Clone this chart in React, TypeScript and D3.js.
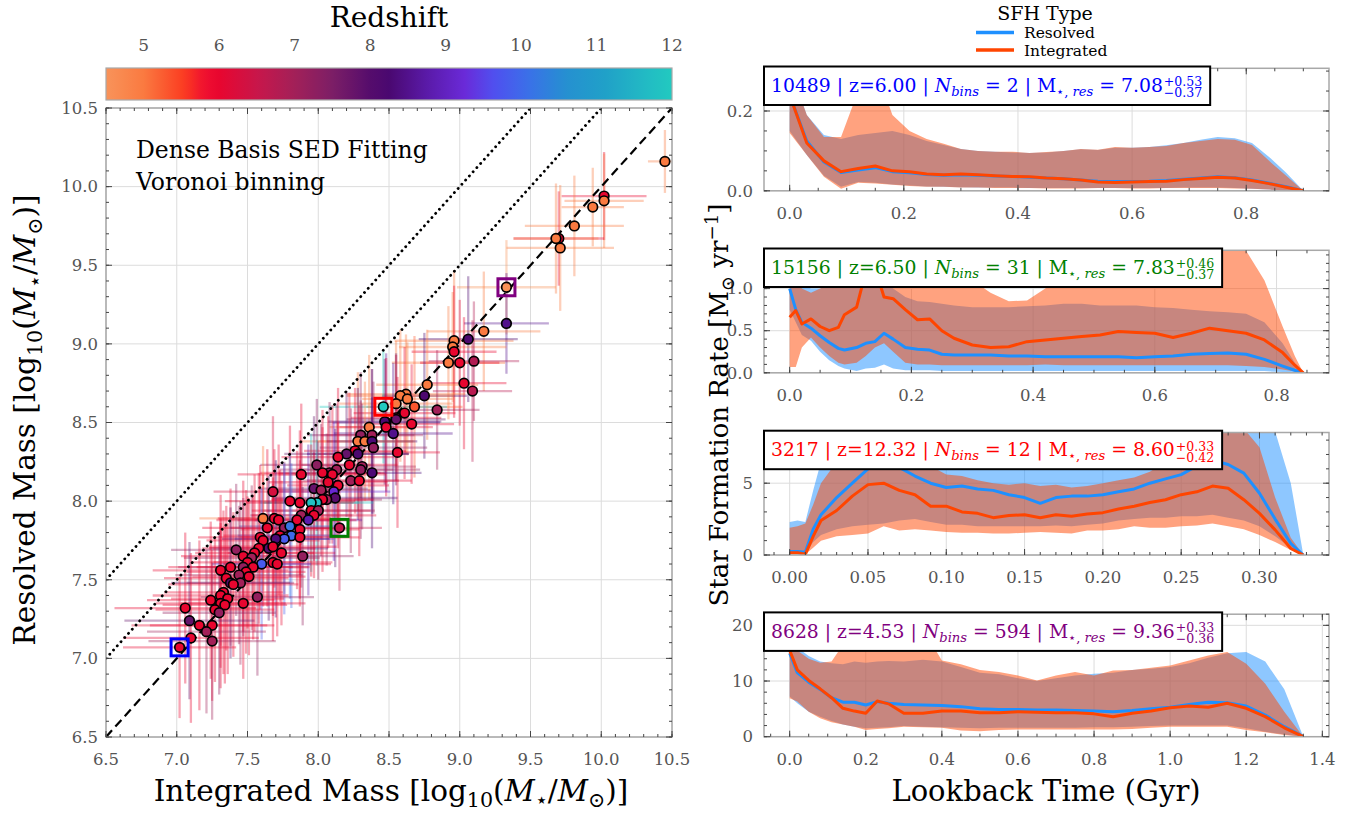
import { useEffect, useRef } from "react";
import * as d3 from "d3";

const SERIF = "'DejaVu Serif', 'Liberation Serif', serif";

// ---- integrated vs resolved stellar mass, one entry per galaxy ----
const intMass = [
  10.45, 10.02, 10.02, 9.94, 9.81, 9.70, 9.68, 9.71, 9.33, 9.33,
  9.17, 8.96, 9.06, 8.95, 8.96, 8.92, 9.00, 9.10, 9.03, 9.09,
  8.77, 8.75, 8.62, 8.58, 8.63, 8.55, 8.68, 8.84, 8.46, 8.61,
  8.55, 8.48, 8.66, 8.36, 8.47, 8.55, 8.48, 8.53, 8.30, 8.38,
  8.28, 8.33, 8.38, 8.26, 8.39, 8.56, 8.20, 8.14, 8.28, 8.22,
  8.31, 8.30, 8.38, 8.13, 8.08, 8.03, 8.10, 7.99, 8.23, 8.29,
  8.07, 7.88, 8.14, 8.11, 7.97, 8.02, 7.68, 8.12, 8.06, 8.03,
  7.99, 7.95, 7.80, 7.87, 7.95, 8.00, 7.88, 7.97, 7.93, 7.85,
  8.15, 7.61, 7.69, 7.72, 7.76, 7.80, 7.87, 7.64, 7.73, 7.81,
  7.76, 7.87, 7.59, 7.61, 7.70, 7.65, 7.68, 7.58, 7.42, 7.74,
  7.55, 7.89, 7.47, 7.53, 7.50, 7.68, 7.71, 7.60, 7.47, 7.38,
  7.54, 7.31, 7.49, 7.44, 7.51, 7.35, 7.38, 7.45, 7.40, 7.57,
  7.47, 7.33, 7.31, 7.24, 7.36, 7.31, 7.34, 7.27, 7.30, 7.06,
  7.09, 7.16, 7.25, 7.21, 7.25, 7.10, 7.02,
];
const resMass = [
  10.16, 9.94, 9.91, 9.87, 9.75, 9.67, 9.67, 9.61, 9.36, 9.13,
  9.08, 9.02, 9.03, 8.98, 8.95, 8.88, 8.88, 8.89, 8.75, 8.70,
  8.74, 8.67, 8.68, 8.67, 8.65, 8.62, 8.60, 8.58, 8.60, 8.56,
  8.53, 8.50, 8.49, 8.47, 8.505, 8.52, 8.47, 8.43, 8.42, 8.42,
  8.38, 8.38, 8.38, 8.32, 8.34, 8.31, 8.30, 8.28, 8.30, 8.23,
  8.22, 8.20, 8.18, 8.20, 8.18, 8.18, 8.17, 8.23, 8.13, 8.13,
  8.12, 8.17, 8.10, 8.06, 8.08, 8.07, 8.06, 8.02, 8.01, 8.01,
  7.99, 7.99, 8.00, 7.99, 7.94, 7.94, 7.91, 7.91, 7.88, 7.88,
  7.83, 7.89, 7.89, 7.88, 7.83, 7.84, 7.82, 7.83, 7.78, 7.78,
  7.76, 7.77, 7.77, 7.75, 7.76, 7.70, 7.71, 7.70, 7.69, 7.67,
  7.67, 7.65, 7.65, 7.64, 7.61, 7.61, 7.60, 7.60, 7.58, 7.58,
  7.58, 7.56, 7.55, 7.53, 7.52, 7.51, 7.48, 7.48, 7.47, 7.39,
  7.35, 7.42, 7.40, 7.37, 7.38, 7.35, 7.34, 7.31, 7.29, 7.32,
  7.24, 7.21, 7.21, 7.17, 7.11, 7.13, 7.07,
];
const redshift = [
  5.0, 6.0, 5.0, 5.0, 5.0, 6.0, 5.0, 5.0, 4.53, 8.5,
  5.0, 5.0, 8.2, 5.0, 6.0, 5.0, 6.0, 6.8, 6.0, 6.7,
  5.0, 8.2, 5.0, 5.0, 5.0, 5.0, 5.3, 7.0, 12.32, 6.0,
  6.0, 8.5, 6.0, 5.0, 8.2, 7.8, 6.0, 8.5, 7.2, 7.0,
  5.0, 5.0, 8.3, 6.0, 7.2, 6.0, 7.8, 6.0, 8.2, 6.0,
  7.0, 7.2, 8.3, 7.0, 7.2, 6.0, 6.0, 7.3, 7.0, 6.0,
  6.0, 6.0, 6.0, 9.2, 7.8, 7.0, 6.3, 8.0, 7.0, 6.0,
  11.8, 11.8, 6.0, 6.0, 6.0, 7.0, 7.0, 6.0, 8.8, 6.0,
  6.5, 5.0, 6.0, 6.0, 7.2, 10.2, 6.0, 6.0, 6.0, 10.0,
  9.8, 6.0, 6.0, 6.0, 8.3, 8.0, 6.0, 6.0, 7.2, 6.0,
  6.0, 7.2, 6.0, 7.0, 6.0, 6.0, 6.0, 9.8, 7.2, 6.0,
  6.0, 6.0, 6.0, 7.0, 6.0, 6.0, 8.0, 7.0, 6.0, 7.2,
  6.0, 6.0, 6.0, 6.0, 6.0, 6.0, 6.0, 6.0, 7.2, 6.0,
  7.8, 6.0, 6.0, 7.0, 7.0, 6.0, 6.0,
];
const intErr = [
  0.12, 0.30, 0.28, 0.22, 0.35, 0.32, 0.30, 0.38, 0.35, 0.30,
  0.40, 0.42, 0.35, 0.38, 0.30, 0.40, 0.28, 0.32, 0.30, 0.28,
  0.36, 0.30, 0.42, 0.38, 0.32, 0.40, 0.34, 0.30, 0.45, 0.36,
  0.32, 0.38, 0.30, 0.28, 0.40, 0.35, 0.33, 0.42, 0.38, 0.36,
  0.40, 0.34, 0.32, 0.36, 0.38, 0.30, 0.44, 0.40, 0.36, 0.34,
  0.38, 0.42, 0.35, 0.40, 0.36, 0.44, 0.38, 0.40, 0.34, 0.37,
  0.42, 0.45, 0.36, 0.40, 0.38, 0.35, 0.42, 0.44, 0.39, 0.36,
  0.40, 0.34, 0.46, 0.38, 0.42, 0.40, 0.36, 0.44, 0.38, 0.42,
  0.30, 0.45, 0.40, 0.44, 0.38, 0.36, 0.42, 0.46, 0.40, 0.38,
  0.35, 0.42, 0.44, 0.40, 0.38, 0.42, 0.45, 0.40, 0.46, 0.38,
  0.42, 0.36, 0.44, 0.48, 0.40, 0.42, 0.38, 0.35, 0.46, 0.44,
  0.40, 0.48, 0.42, 0.45, 0.40, 0.44, 0.42, 0.38, 0.46, 0.40,
  0.44, 0.42, 0.48, 0.45, 0.40, 0.46, 0.44, 0.42, 0.40, 0.50,
  0.46, 0.48, 0.44, 0.42, 0.45, 0.48, 0.40,
];
const resErr = [
  0.20, 0.28, 0.30, 0.25, 0.32, 0.30, 0.35, 0.40, 0.30, 0.32,
  0.38, 0.45, 0.40, 0.35, 0.42, 0.36, 0.40, 0.38, 0.42, 0.45,
  0.35, 0.40, 0.38, 0.42, 0.36, 0.40, 0.45, 0.38, 0.36, 0.42,
  0.40, 0.44, 0.38, 0.46, 0.40, 0.42, 0.44, 0.45, 0.40, 0.42,
  0.44, 0.38, 0.46, 0.40, 0.42, 0.48, 0.40, 0.44, 0.42, 0.46,
  0.40, 0.44, 0.48, 0.42, 0.45, 0.40, 0.44, 0.42, 0.46, 0.48,
  0.42, 0.45, 0.40, 0.44, 0.46, 0.42, 0.48, 0.44, 0.42, 0.46,
  0.40, 0.44, 0.48, 0.46, 0.42, 0.44, 0.46, 0.40, 0.48, 0.44,
  0.40, 0.46, 0.44, 0.48, 0.42, 0.46, 0.44, 0.50, 0.42, 0.46,
  0.48, 0.44, 0.46, 0.42, 0.50, 0.46, 0.44, 0.48, 0.42, 0.46,
  0.50, 0.44, 0.48, 0.46, 0.42, 0.50, 0.46, 0.48, 0.44, 0.50,
  0.46, 0.48, 0.52, 0.44, 0.50, 0.46, 0.48, 0.52, 0.46, 0.50,
  0.48, 0.52, 0.46, 0.50, 0.48, 0.54, 0.50, 0.46, 0.52, 0.48,
  0.50, 0.54, 0.48, 0.52, 0.50, 0.54, 0.45,
];

// redshift colour bar (stops picked off the reference bar)
const cmapZ = [4.5, 5.0, 5.55, 5.8, 6.0, 6.5, 7.0, 7.5, 8.0, 8.25, 8.75, 9.25, 9.65, 10.1, 10.6, 11.1, 11.6, 12.0];
const cmapC = ["#f8935a", "#fa7a40", "#fb3a20", "#f01030", "#e8062f", "#c8164a", "#a22058", "#7c1e66",
  "#550c6c", "#4a0870", "#5a1aa8", "#6a2ad8", "#4f50f0", "#3a70e8", "#2590d0", "#20a0c8", "#22b8c4", "#22cac0"];
const zTicks = [5, 6, 7, 8, 9, 10, 11, 12];
const massTicks = [6.5, 7.0, 7.5, 8.0, 8.5, 9.0, 9.5, 10.0, 10.5];

// highlighted galaxies (one SFH panel each, top to bottom)
const hlIndex = [136, 80, 28, 8];
const hlId = ["10489", "15156", "3217", "8628"];
const hlZ = ["6.00", "6.50", "12.32", "4.53"];
const hlNbins = ["2", "31", "12", "594"];
const hlMass = ["7.08", "7.83", "8.60", "9.36"];
const hlUp = ["0.53", "0.46", "0.33", "0.33"];
const hlLo = ["0.37", "0.37", "0.42", "0.36"];
const hlColor = ["#0000ff", "#008000", "#ff0000", "#800080"];

// ---- star formation histories ----
const p1Time = [0, 0.03, 0.06, 0.09, 0.12, 0.15, 0.18, 0.21, 0.24, 0.27, 0.30, 0.33, 0.36, 0.39, 0.42, 0.45,
  0.48, 0.51, 0.54, 0.57, 0.60, 0.63, 0.66, 0.69, 0.72, 0.75, 0.78, 0.81, 0.84, 0.87, 0.90];
const p1IntMed = [0.24, 0.12, 0.075, 0.048, 0.056, 0.062, 0.05, 0.048, 0.042, 0.040, 0.042, 0.040, 0.038, 0.036, 0.035, 0.032,
  0.030, 0.027, 0.022, 0.021, 0.022, 0.023, 0.024, 0.028, 0.031, 0.034, 0.032, 0.026, 0.018, 0.009, 0];
const p1ResMed = [0.24, 0.125, 0.072, 0.046, 0.052, 0.058, 0.048, 0.045, 0.041, 0.039, 0.040, 0.039, 0.037, 0.036, 0.034, 0.032,
  0.030, 0.027, 0.024, 0.023, 0.023, 0.024, 0.026, 0.029, 0.032, 0.035, 0.033, 0.027, 0.019, 0.010, 0];
const p1IntHi = [0.31, 0.19, 0.135, 0.135, 0.25, 0.31, 0.19, 0.15, 0.13, 0.118, 0.105, 0.100, 0.098, 0.098, 0.095, 0.097,
  0.100, 0.105, 0.103, 0.110, 0.108, 0.110, 0.112, 0.120, 0.125, 0.130, 0.128, 0.115, 0.075, 0.038, 0];
const p1ResHi = [0.31, 0.19, 0.14, 0.13, 0.14, 0.145, 0.15, 0.14, 0.125, 0.115, 0.105, 0.10, 0.098, 0.096, 0.095, 0.096,
  0.10, 0.104, 0.102, 0.108, 0.108, 0.110, 0.114, 0.120, 0.128, 0.135, 0.132, 0.12, 0.085, 0.045, 0];
const p1IntLo = [0.145, 0.09, 0.035, 0.005, 0.02, 0.018, 0.015, 0.012, 0.010, 0.010, 0.008, 0.008, 0.007, 0.007, 0.007, 0.006,
  0.006, 0.006, 0.007, 0.007, 0.006, 0.006, 0.007, 0.007, 0.007, 0.007, 0.006, 0.005, 0.003, 0.001, 0];
const p1ResLo = [0.15, 0.09, 0.038, 0.01, 0.022, 0.02, 0.016, 0.013, 0.011, 0.010, 0.009, 0.008, 0.008, 0.008, 0.007, 0.007,
  0.007, 0.007, 0.007, 0.007, 0.007, 0.007, 0.007, 0.008, 0.008, 0.008, 0.007, 0.005, 0.003, 0.001, 0];

const p2Time = [0, 0.01, 0.02, 0.035, 0.05, 0.065, 0.08, 0.09, 0.11, 0.125, 0.14, 0.155, 0.17, 0.19, 0.21, 0.23, 0.25, 0.27, 0.30,
  0.33, 0.36, 0.39, 0.42, 0.45, 0.48, 0.51, 0.54, 0.57, 0.60, 0.63, 0.66, 0.69, 0.72, 0.75, 0.78, 0.81, 0.83, 0.844];
const p2IntMed = [0.66, 0.74, 0.58, 0.64, 0.55, 0.50, 0.54, 0.69, 0.78, 1.20, 1.25, 0.90, 0.88, 0.75, 0.63, 0.64, 0.50, 0.41, 0.33,
  0.30, 0.31, 0.37, 0.39, 0.41, 0.43, 0.45, 0.49, 0.48, 0.47, 0.42, 0.47, 0.53, 0.50, 0.47, 0.39, 0.24, 0.09, 0];
const p2ResMed = [1.00, 0.75, 0.60, 0.53, 0.44, 0.36, 0.29, 0.27, 0.30, 0.35, 0.37, 0.47, 0.40, 0.30, 0.28, 0.27, 0.22, 0.21, 0.21,
  0.21, 0.20, 0.20, 0.19, 0.19, 0.19, 0.19, 0.19, 0.18, 0.19, 0.20, 0.22, 0.23, 0.235, 0.22, 0.16, 0.08, 0.03, 0];
const p2IntHi = [1.5, 1.3, 1.0, 0.95, 1.0, 1.05, 1.1, 1.3, 1.5, 1.5, 1.5, 1.5, 1.5, 1.5, 1.4, 1.35, 1.3, 1.25, 1.1,
  0.95, 0.85, 0.86, 1.0, 1.2, 1.45, 1.5, 1.5, 1.5, 1.5, 1.5, 1.5, 1.5, 1.5, 1.45, 1.1, 0.55, 0.2, 0];
const p2ResHi = [1.4, 1.2, 1.05, 1.0, 1.0, 1.05, 1.1, 1.15, 1.2, 1.25, 1.2, 1.1, 1.0, 0.9, 0.85, 0.84, 0.82, 0.80, 0.78,
  0.78, 0.78, 0.79, 0.80, 0.82, 0.82, 0.80, 0.80, 0.80, 0.78, 0.77, 0.75, 0.73, 0.72, 0.70, 0.60, 0.35, 0.12, 0];
const p2IntLo = [0.07, 0.07, 0.30, 0.42, 0.30, 0.20, 0.12, 0.10, 0.12, 0.20, 0.30, 0.35, 0.25, 0.12, 0.10, 0.10, 0.09, 0.09, 0.09,
  0.09, 0.09, 0.09, 0.10, 0.09, 0.09, 0.09, 0.09, 0.09, 0.09, 0.09, 0.09, 0.09, 0.09, 0.08, 0.07, 0.04, 0.015, 0];
const p2ResLo = [0.75, 0.60, 0.45, 0.38, 0.25, 0.15, 0.08, 0.05, 0.02, 0.05, 0.06, 0.10, 0.05, 0.03, 0.03, 0.03, 0.02, 0.02, 0.02,
  0.02, 0.02, 0.02, 0.02, 0.02, 0.02, 0.02, 0.02, 0.02, 0.02, 0.02, 0.02, 0.02, 0.02, 0.02, 0.02, 0.01, 0.005, 0];

const p3Time = [0, 0.005, 0.01, 0.015, 0.02, 0.03, 0.04, 0.05, 0.06, 0.07, 0.08, 0.09, 0.10, 0.11, 0.12, 0.13, 0.14, 0.15,
  0.16, 0.17, 0.18, 0.19, 0.20, 0.21, 0.22, 0.23, 0.24, 0.25, 0.26, 0.27, 0.28, 0.29, 0.30, 0.31, 0.32, 0.328];
const p3IntMed = [0.16, 0.15, 0.05, 1.3, 2.4, 3.1, 4.1, 4.9, 5.0, 4.5, 4.2, 3.4, 3.4, 3.0, 2.9, 2.6, 2.75, 2.8,
  2.6, 2.8, 2.7, 2.85, 2.95, 3.2, 3.4, 3.65, 3.85, 4.2, 4.4, 4.8, 4.65, 3.85, 2.9, 1.75, 0.45, 0];
const p3ResMed = [0.25, 0.25, 0.2, 1.8, 2.8, 4.0, 5.0, 6.0, 6.4, 6.1, 5.5, 5.0, 4.7, 4.8, 4.6, 4.5, 4.2, 4.0,
  3.6, 4.0, 4.1, 4.1, 4.2, 4.4, 4.6, 5.0, 5.3, 5.6, 6.2, 6.6, 6.3, 5.7, 4.3, 2.5, 0.8, 0];
const p3IntHi = [1.9, 2.0, 2.2, 3.5, 5.0, 6.5, 8.0, 8.8, 8.8, 8.0, 7.0, 6.2, 5.6, 5.5, 5.2, 5.0, 4.9, 5.0,
  4.8, 4.9, 4.7, 4.8, 5.0, 5.2, 5.4, 5.8, 6.5, 7.5, 8.8, 8.8, 8.8, 8.8, 7.5, 4.0, 1.2, 0];
const p3ResHi = [2.3, 2.4, 2.3, 4.5, 6.5, 8.8, 8.8, 8.8, 8.8, 8.8, 8.8, 8.8, 8.8, 8.6, 8.4, 8.2, 8.0, 7.8,
  7.6, 7.8, 8.0, 8.2, 8.4, 8.6, 8.8, 8.8, 8.8, 8.8, 8.8, 8.8, 8.8, 8.8, 8.8, 8.6, 5.0, 0];
const p3IntLo = [0.05, 0.05, 0.05, 0.5, 1.0, 1.3, 1.4, 1.5, 2.0, 1.7, 1.8, 1.7, 1.6, 1.55, 1.55, 1.5, 1.5, 1.55,
  1.6, 1.55, 1.5, 1.7, 1.7, 1.8, 2.0, 1.9, 1.9, 2.0, 2.05, 2.2, 2.0, 1.8, 1.4, 0.9, 0.35, 0];
const p3ResLo = [0.1, 0.1, 0.1, 0.9, 1.4, 1.8, 2.0, 2.1, 2.2, 2.4, 2.5, 2.3, 2.1, 2.1, 2.0, 2.0, 2.0, 2.0,
  2.0, 2.05, 2.0, 2.1, 2.2, 2.4, 2.5, 2.6, 2.6, 2.7, 2.7, 2.8, 2.6, 2.4, 2.0, 1.3, 0.5, 0];

const p4Time = [0, 0.02, 0.05, 0.08, 0.11, 0.14, 0.17, 0.2, 0.23, 0.26, 0.3, 0.35, 0.4, 0.45, 0.5, 0.55,
  0.6, 0.65, 0.7, 0.75, 0.8, 0.85, 0.9, 0.95, 1.0, 1.05, 1.1, 1.15, 1.2, 1.25, 1.3, 1.35];
const p4IntMed = [15.5, 12.0, 10.1, 8.6, 7.0, 5.1, 4.6, 4.2, 6.4, 5.9, 4.2, 4.2, 4.6, 4.6, 4.3, 4.3,
  4.5, 4.4, 4.3, 4.3, 4.1, 3.6, 4.2, 4.6, 5.2, 5.5, 5.3, 6.0, 5.1, 3.6, 1.6, 0];
const p4ResMed = [15.0, 11.5, 9.8, 8.5, 7.0, 6.2, 6.2, 5.7, 6.3, 6.0, 5.8, 5.7, 5.6, 5.4, 5.0, 4.9,
  4.9, 4.8, 4.8, 4.7, 4.6, 4.5, 4.7, 5.0, 5.3, 5.8, 6.2, 6.1, 5.5, 3.9, 1.8, 0];
const p4IntHi = [22, 15.5, 14.0, 13.3, 13.5, 16.5, 17.5, 19.0, 18.5, 18.8, 19.2, 19.4, 13.7, 13.0, 12.0, 11.6,
  11.0, 10.1, 11.0, 11.6, 11.0, 11.9, 12.0, 12.4, 12.8, 13.7, 14.6, 15.2, 13.1, 9.5, 4.5, 0];
const p4ResHi = [22, 16.0, 14.5, 13.5, 13.2, 13.0, 13.5, 13.3, 13.5, 13.6, 13.5, 13.8, 13.5, 12.5, 11.5, 11.2,
  10.5, 10.0, 10.5, 11.0, 11.3, 11.5, 12.0, 12.2, 12.5, 13.2, 14.2, 15.0, 15.2, 13.5, 8.5, 0];
const p4IntLo = [6.9, 6.3, 4.5, 3.3, 2.6, 2.2, 1.8, 1.2, 1.4, 1.5, 1.8, 1.7, 1.6, 1.1, 1.0, 1.2,
  1.3, 1.3, 1.3, 1.3, 1.3, 1.3, 1.4, 1.6, 1.8, 1.8, 1.8, 1.8, 1.2, 0.8, 0.3, 0];
const p4ResLo = [7.2, 6.0, 4.5, 3.6, 2.8, 2.2, 1.8, 1.5, 1.6, 1.7, 1.9, 1.8, 1.7, 1.6, 1.5, 1.6,
  1.6, 1.6, 1.6, 1.6, 1.7, 1.7, 1.8, 1.9, 2.0, 2.0, 2.0, 2.0, 1.5, 0.9, 0.4, 0];

const panelTime = [p1Time, p2Time, p3Time, p4Time];
const panelIntMed = [p1IntMed, p2IntMed, p3IntMed, p4IntMed];
const panelResMed = [p1ResMed, p2ResMed, p3ResMed, p4ResMed];
const panelIntHi = [p1IntHi, p2IntHi, p3IntHi, p4IntHi];
const panelResHi = [p1ResHi, p2ResHi, p3ResHi, p4ResHi];
const panelIntLo = [p1IntLo, p2IntLo, p3IntLo, p4IntLo];
const panelResLo = [p1ResLo, p2ResLo, p3ResLo, p4ResLo];
const sfrMax = [0.307, 1.455, 8.53, 22];
const xTicksP = [[0, 0.2, 0.4, 0.6, 0.8], [0, 0.2, 0.4, 0.6, 0.8], [0, 0.05, 0.1, 0.15, 0.2, 0.25, 0.3], [0, 0.2, 0.4, 0.6, 0.8, 1.0, 1.2, 1.4]];
const xMinorP = [0.05, 0.05, 0.01, 0.05];
const xFmtP = [".1f", ".1f", ".2f", ".1f"];
const yTicksP = [[0, 0.2], [0, 0.5, 1.0], [0, 5], [0, 10, 20]];
const yMinorP = [0.05, 0.1, 1, 2];
const yFmtP = [".1f", ".1f", "d", "d"];

const RES_C = "#1e90ff";
const INT_C = "#ff4500";
const TICK_FS = 16.5;

type Seg = { t: string; it?: boolean; sub?: boolean; sup?: boolean };

function richText(parent: any, segs: Seg[], size: number) {
  const text = parent.append("text").attr("font-size", size).style("white-space", "pre");
  let cur = 0;
  segs.forEach((s) => {
    const target = s.sub ? size * 0.22 : s.sup ? -size * 0.38 : 0;
    const ts = text.append("tspan").text(s.t).attr("dy", target - cur);
    cur = target;
    if (s.it) ts.attr("font-style", "italic");
    if (s.sub || s.sup) ts.attr("font-size", size * 0.7);
  });
  return text;
}

const steps = (lo: number, hi: number, step: number) =>
  d3.range(Math.ceil(lo / step - 1e-9), Math.floor(hi / step + 1e-9) + 1).map((k) => +(k * step).toFixed(6));

function drawTicks(g: any, x: any, y: any, xMaj: number[], xMin: number[], yMaj: number[], yMin: number[]) {
  const [xl, xr] = x.range();
  const [yb, yt] = y.range();
  const tg = g.append("g").attr("stroke", "#444").attr("stroke-width", 1);
  ([[xMin, 3], [xMaj, 6]] as [number[], number][]).forEach(([vals, len]) => {
    vals.forEach((v) => {
      const p = x(v);
      tg.append("line").attr("x1", p).attr("x2", p).attr("y1", yb).attr("y2", yb - len);
      tg.append("line").attr("x1", p).attr("x2", p).attr("y1", yt).attr("y2", yt + len);
    });
  });
  ([[yMin, 3], [yMaj, 6]] as [number[], number][]).forEach(([vals, len]) => {
    vals.forEach((v) => {
      const p = y(v);
      tg.append("line").attr("y1", p).attr("y2", p).attr("x1", xl).attr("x2", xl + len);
      tg.append("line").attr("y1", p).attr("y2", p).attr("x1", xr).attr("x2", xr - len);
    });
  });
}

function drawGrid(g: any, x: any, y: any, xv: number[], yv: number[]) {
  const [xl, xr] = x.range();
  const [yb, yt] = y.range();
  const gg = g.append("g").attr("stroke", "#dcdcdc").attr("stroke-width", 1);
  xv.forEach((v) => gg.append("line").attr("x1", x(v)).attr("x2", x(v)).attr("y1", yb).attr("y2", yt));
  yv.forEach((v) => gg.append("line").attr("y1", y(v)).attr("y2", y(v)).attr("x1", xl).attr("x2", xr));
}

export default function App() {
  const ref = useRef<SVGSVGElement>(null);

  useEffect(() => {
    const svg = d3.select(ref.current);
    svg.selectAll("*").remove();
    svg.attr("font-family", SERIF);

    const color = d3.scaleLinear<string>().domain(cmapZ).range(cmapC).clamp(true);

    // ================= left: mass comparison =================
    const x = d3.scaleLinear().domain([6.5, 10.5]).range([106, 672]);
    const y = d3.scaleLinear().domain([6.5, 10.5]).range([737, 108]);
    const main = svg.append("g");

    main.append("clipPath").attr("id", "clipMain").append("rect")
      .attr("x", 106).attr("y", 108).attr("width", 566).attr("height", 629);

    drawGrid(main, x, y, massTicks, massTicks);

    const plot = main.append("g").attr("clip-path", "url(#clipMain)");

    // error bars
    const eb = plot.append("g").attr("stroke-width", 2.3).attr("stroke-opacity", 0.36);
    intMass.forEach((m, i) => {
      const c = color(redshift[i]);
      eb.append("line").attr("stroke", c)
        .attr("x1", x(m - intErr[i])).attr("x2", x(m + intErr[i]))
        .attr("y1", y(resMass[i])).attr("y2", y(resMass[i]));
      eb.append("line").attr("stroke", c)
        .attr("x1", x(m)).attr("x2", x(m))
        .attr("y1", y(resMass[i] - resErr[i])).attr("y2", y(resMass[i] + resErr[i]));
    });

    // one-to-one and offset lines
    const refLines: [number, string][] = [[0, "9,5"], [0.5, "0.1,5.5"], [1.0, "0.1,5.5"]];
    refLines.forEach(([off, dash]) => {
      plot.append("line")
        .attr("x1", x(6.5)).attr("y1", y(6.5 + off))
        .attr("x2", x(10.5)).attr("y2", y(10.5 + off))
        .attr("stroke", "#000").attr("stroke-width", off === 0 ? 2.2 : 2.8)
        .attr("stroke-linecap", off === 0 ? "butt" : "round")
        .attr("stroke-dasharray", dash);
    });

    plot.append("g").selectAll("circle").data(intMass).join("circle")
      .attr("cx", (d) => x(d))
      .attr("cy", (_d, i) => y(resMass[i]))
      .attr("r", 4.8)
      .attr("fill", (_d, i) => color(redshift[i]))
      .attr("stroke", "#000").attr("stroke-width", 1.7);

    hlIndex.forEach((idx, k) => {
      main.append("rect")
        .attr("x", x(intMass[idx]) - 8.5).attr("y", y(resMass[idx]) - 8.5)
        .attr("width", 17).attr("height", 17)
        .attr("fill", "none").attr("stroke", hlColor[k]).attr("stroke-width", 3);
    });

    main.append("rect").attr("x", 106).attr("y", 108).attr("width", 566).attr("height", 629)
      .attr("fill", "none").attr("stroke", "#a8a8a8").attr("stroke-width", 1.5);
    drawTicks(main, x, y, massTicks, steps(6.5, 10.5, 0.1), massTicks, steps(6.5, 10.5, 0.1));

    const fmt1 = d3.format(".1f");
    massTicks.forEach((v) => {
      main.append("text").attr("x", x(v)).attr("y", 765).attr("text-anchor", "middle")
        .attr("font-size", TICK_FS).attr("fill", "#555").text(fmt1(v));
      main.append("text").attr("x", 98).attr("y", y(v)).attr("dy", "0.35em").attr("text-anchor", "end")
        .attr("font-size", TICK_FS).attr("fill", "#555").text(fmt1(v));
    });

    main.append("text").attr("x", 136).attr("y", 158).attr("font-size", 23.5).text("Dense Basis SED Fitting");
    main.append("text").attr("x", 136).attr("y", 190).attr("font-size", 23.5).text("Voronoi binning");

    const xl = richText(main, [
      { t: "Integrated Mass [log" }, { t: "10", sub: true }, { t: "(" }, { t: "M", it: true }, { t: "⋆", sub: true },
      { t: "/" }, { t: "M", it: true }, { t: "⊙", sub: true }, { t: ")]" },
    ], 29.5);
    xl.attr("x", 391).attr("y", 801).attr("text-anchor", "middle");

    const ylg = main.append("g").attr("transform", "translate(35,420) rotate(-90)");
    richText(ylg, [
      { t: "Resolved Mass [log" }, { t: "10", sub: true }, { t: "(" }, { t: "M", it: true }, { t: "⋆", sub: true },
      { t: "/" }, { t: "M", it: true }, { t: "⊙", sub: true }, { t: ")]" },
    ], 29.5).attr("x", 0).attr("y", 0).attr("text-anchor", "middle");

    // ================= colour bar =================
    const cz = d3.scaleLinear().domain([4.5, 12]).range([106, 672]);
    const defs = svg.append("defs");
    const grad = defs.append("linearGradient").attr("id", "zgrad").attr("x1", "0%").attr("x2", "100%");
    d3.range(0, 61).forEach((k) => {
      const z = 4.5 + (7.5 * k) / 60;
      grad.append("stop").attr("offset", `${(k / 60) * 100}%`).attr("stop-color", color(z));
    });
    svg.append("rect").attr("x", 106).attr("y", 68).attr("width", 566).attr("height", 32)
      .attr("fill", "url(#zgrad)").attr("stroke", "#a8a8a8").attr("stroke-width", 1.2);
    zTicks.forEach((v) => {
      svg.append("text").attr("x", cz(v)).attr("y", 51).attr("text-anchor", "middle")
        .attr("font-size", 17).attr("fill", "#555").text(v);
    });
    svg.append("text").attr("x", 389).attr("y", 27).attr("text-anchor", "middle")
      .attr("font-size", 28).text("Redshift");

    // ================= right: SFH panels =================
    const PX0 = 764, PX1 = 1329, PH = 122.5;
    const panelTop = [68.3, 250.3, 432.5, 614.2];

    panelTime.forEach((time, i) => {
      const top = panelTop[i];
      const tMax = d3.max(time) as number;
      const px = d3.scaleLinear().domain([-0.05 * tMax, 1.05 * tMax]).range([PX0, PX1]);
      const py = d3.scaleLinear().domain([0, sfrMax[i]]).range([top + PH, top]);
      const g = svg.append("g");

      g.append("clipPath").attr("id", `clipP${i}`).append("rect")
        .attr("x", PX0).attr("y", top).attr("width", PX1 - PX0).attr("height", PH);

      drawGrid(g, px, py, xTicksP[i], yTicksP[i]);

      const body = g.append("g").attr("clip-path", `url(#clipP${i})`);
      const area = (lo: number[], hi: number[]) =>
        d3.area<number>().x((t) => px(t)).y0((_t, k) => py(lo[k])).y1((_t, k) => py(hi[k]))(time);
      const line = (v: number[]) => d3.line<number>().x((t) => px(t)).y((_t, k) => py(v[k]))(time);

      body.append("path").attr("d", area(panelResLo[i], panelResHi[i])).attr("fill", RES_C).attr("fill-opacity", 0.5);
      body.append("path").attr("d", area(panelIntLo[i], panelIntHi[i])).attr("fill", INT_C).attr("fill-opacity", 0.5);
      body.append("path").attr("d", line(panelResMed[i])).attr("fill", "none").attr("stroke", RES_C)
        .attr("stroke-width", 3).attr("stroke-linejoin", "round");
      body.append("path").attr("d", line(panelIntMed[i])).attr("fill", "none").attr("stroke", INT_C)
        .attr("stroke-width", 3).attr("stroke-linejoin", "round");

      g.append("rect").attr("x", PX0).attr("y", top).attr("width", PX1 - PX0).attr("height", PH)
        .attr("fill", "none").attr("stroke", "#a8a8a8").attr("stroke-width", 1.5);
      const [d0, d1] = px.domain();
      drawTicks(g, px, py, xTicksP[i], steps(d0, d1, xMinorP[i]), yTicksP[i], steps(0, sfrMax[i], yMinorP[i]));

      const xf = d3.format(xFmtP[i]);
      const yf = d3.format(yFmtP[i]);
      xTicksP[i].forEach((v) => {
        g.append("text").attr("x", px(v)).attr("y", top + PH + 28).attr("text-anchor", "middle")
          .attr("font-size", TICK_FS).attr("fill", "#555").text(xf(v));
      });
      yTicksP[i].forEach((v) => {
        g.append("text").attr("x", 753).attr("y", py(v)).attr("dy", "0.35em").attr("text-anchor", "end")
          .attr("font-size", TICK_FS).attr("fill", "#555").text(yf(v));
      });

      // label box
      const box = g.append("g");
      const rect = box.append("rect").attr("x", PX0).attr("y", top - 1.8).attr("height", 38.5)
        .attr("fill", "#fff").attr("stroke", "#000").attr("stroke-width", 2);
      const base = top + 23.5;
      const tx = PX0 + 7;
      const txt = richText(box, [
        { t: `${hlId[i]} | z=${hlZ[i]} | ` }, { t: "N", it: true }, { t: "bins", it: true, sub: true },
        { t: ` = ${hlNbins[i]} | M` }, { t: "⋆", sub: true }, { t: ", ", sub: true }, { t: "res", it: true, sub: true },
        { t: ` = ${hlMass[i]}` },
      ], 18.8).attr("x", tx).attr("y", base).attr("fill", hlColor[i]);
      const len = (txt.node() as SVGTextElement).getComputedTextLength();
      const up = box.append("text").attr("x", tx + len + 1).attr("y", base - 5.5).attr("font-size", 12.5)
        .attr("fill", hlColor[i]).text(`+${hlUp[i]}`);
      const lo = box.append("text").attr("x", tx + len + 1).attr("y", base + 5.5).attr("font-size", 12.5)
        .attr("fill", hlColor[i]).text(`−${hlLo[i]}`);
      const wsup = Math.max(
        (up.node() as SVGTextElement).getComputedTextLength(),
        (lo.node() as SVGTextElement).getComputedTextLength());
      rect.attr("width", len + wsup + 16);
    });

    // shared axis labels for the SFH column
    svg.append("text").attr("x", 1046).attr("y", 801).attr("text-anchor", "middle")
      .attr("font-size", 29).text("Lookback Time (Gyr)");
    const sfrLab = svg.append("g").attr("transform", "translate(728,405) rotate(-90)");
    richText(sfrLab, [
      { t: "Star Formation Rate [M" }, { t: "⊙", sub: true }, { t: " yr" }, { t: "−1", sup: true }, { t: "]" },
    ], 26).attr("x", 0).attr("y", 0).attr("text-anchor", "middle");

    // legend
    const leg = svg.append("g");
    leg.append("text").attr("x", 1045).attr("y", 20).attr("text-anchor", "middle").attr("font-size", 19).text("SFH Type");
    [["Resolved", RES_C, 32.5], ["Integrated", INT_C, 50]].forEach(([lab, c, yy]) => {
      leg.append("line").attr("x1", 976).attr("x2", 1014).attr("y1", yy as number).attr("y2", yy as number)
        .attr("stroke", c as string).attr("stroke-width", 3.5);
      leg.append("text").attr("x", 1024).attr("y", (yy as number) + 5.5).attr("font-size", 15.5).text(lab as string);
    });
  }, []);

  return (
    <svg ref={ref} width={1368} height={814}
      style={{ position: "absolute", left: 0, top: 0, background: "#fff" }} />
  );
}
